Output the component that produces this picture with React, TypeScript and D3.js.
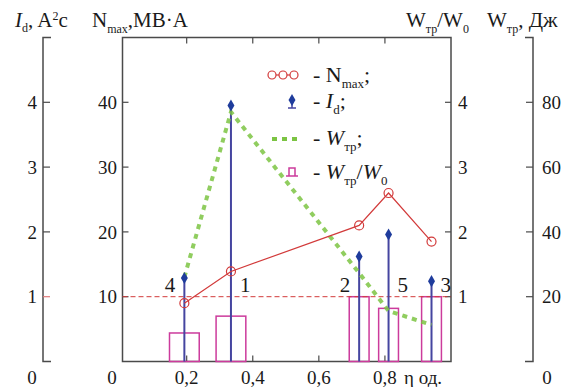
import * as d3 from "d3";

// η, відн. од.
const eta = [0.193, 0.334, 0.722, 0.811, 0.941];
const pointLabels = ["4", "1", "2", "5", "3"];
// N_max, MB·A
const nMax = [9.0, 13.9, 21.0, 26.0, 18.5];
// I_d, A²c
const iD = [1.29, 3.95, 1.62, 1.96, 1.24];
// W_тр, Дж
const wTp = [26, 77, 27.3, 15.6, 11.3];
// W_тр / W_0
const wRatio = [0.44, 0.7, 1.0, 0.82, 1.0];
const barSpan = [0.09, 0.09, 0.06, 0.06, 0.06];

const xTicks = [0.2, 0.4, 0.6, 0.8];
const nTicks = [10, 20, 30, 40];
const unitTicks = [1, 2, 3, 4];
const wTicks = [20, 40, 60, 80];

const FONT = "Liberation Serif, DejaVu Serif, serif";
const AXIS = "#4a4a4a";
const RED = "#d23a3a";
const BLUE_STEM = "#4545a0";
const BLUE = "#1f3c9c";
const GREEN = "#7cc443";
const MAGENTA = "#cc3b9c";

const W = 576;
const H = 387;
const TOP = 37.5;
const BOTTOM = 361.5;
const BOX_L = 122.5;
const BOX_R = 451;
const AX_ID = 43;
const AX_W = 533;

export default function App() {
  const x = d3.scaleLinear().domain([0, 1]).range([120.6, 451]);
  const yN = d3.scaleLinear().domain([0, 50]).range([BOTTOM, TOP]);
  const yU = d3.scaleLinear().domain([0, 5]).range([BOTTOM, TOP]);
  const yW = d3.scaleLinear().domain([0, 100]).range([BOTTOM, TOP]);

  const nLine = d3
    .line<number>()
    .x((_, i) => x(eta[i]))
    .y((d) => yN(d));
  const wLine = d3
    .line<number>()
    .x((_, i) => x(eta[i]))
    .y((d) => yW(d));

  const diamond = d3.symbol(d3.symbolDiamond, 42)();

  const tickText = { fontFamily: FONT, fontSize: 19, fill: "#1a1a1a" } as const;

  return (
    <svg
      width={W}
      height={H}
      style={{ position: "absolute", left: 0, top: 0, background: "#fff" }}
    >
      {/* headers */}
      <text x={15} y={27} fontFamily={FONT} fontSize={21} fill="#1a1a1a">
        <tspan fontStyle="italic">I</tspan>
        <tspan fontSize={12} dy={5}>d</tspan>
        <tspan dy={-5}>, A</tspan>
        <tspan fontSize={12} dy={-7}>2</tspan>
        <tspan dy={7}>c</tspan>
      </text>
      <text x={92} y={27} fontFamily={FONT} fontSize={21} fill="#1a1a1a">
        <tspan>N</tspan>
        <tspan fontSize={12} dy={6}>max</tspan>
        <tspan dy={-6}>,MB·A</tspan>
      </text>
      <text x={406} y={27} fontFamily={FONT} fontSize={21} fill="#1a1a1a">
        <tspan>W</tspan>
        <tspan fontSize={12} dy={6}>тр</tspan>
        <tspan dy={-6}>/W</tspan>
        <tspan fontSize={12} dy={6}>0</tspan>
      </text>
      <text x={487} y={27} fontFamily={FONT} fontSize={21} fill="#1a1a1a">
        <tspan>W</tspan>
        <tspan fontSize={12} dy={6}>тр</tspan>
        <tspan dy={-6}>, Дж</tspan>
      </text>

      {/* I_d axis */}
      <path
        d={`M${AX_ID + 8},${TOP}H${AX_ID}V${BOTTOM}H${AX_ID + 8}`}
        fill="none"
        stroke={AXIS}
        strokeWidth={1.5}
      />
      {unitTicks.map((t) => (
        <g key={t}>
          <line
            x1={AX_ID}
            x2={AX_ID + 7}
            y1={yU(t)}
            y2={yU(t)}
            stroke={t === 1 ? "#e07a7a" : AXIS}
            strokeWidth={1.2}
          />
          <text x={37} y={yU(t)} dy="0.35em" textAnchor="end" {...tickText}>
            {t}
          </text>
        </g>
      ))}
      <text x={32} y={384} textAnchor="middle" {...tickText}>0</text>

      {/* W_тр axis */}
      <path
        d={`M${AX_W - 8},${TOP}H${AX_W}V${BOTTOM}H${AX_W - 8}`}
        fill="none"
        stroke={AXIS}
        strokeWidth={1.5}
      />
      {wTicks.map((t) => (
        <g key={t}>
          <line x1={AX_W - 7} x2={AX_W} y1={yW(t)} y2={yW(t)} stroke={AXIS} strokeWidth={1.2} />
          <text x={542} y={yW(t)} dy="0.35em" {...tickText}>{t}</text>
        </g>
      ))}
      <text x={547} y={384} textAnchor="middle" {...tickText}>0</text>

      {/* main box */}
      <rect
        x={BOX_L}
        y={TOP}
        width={BOX_R - BOX_L}
        height={BOTTOM - TOP}
        fill="none"
        stroke={AXIS}
        strokeWidth={1.5}
      />
      {nTicks.map((t) => (
        <g key={t}>
          <line x1={BOX_L} x2={BOX_L + 6} y1={yN(t)} y2={yN(t)} stroke={AXIS} strokeWidth={1.2} />
          <text x={117} y={yN(t)} dy="0.35em" textAnchor="end" {...tickText}>{t}</text>
        </g>
      ))}
      <text x={112} y={384} textAnchor="middle" {...tickText}>0</text>
      {unitTicks.map((t) => (
        <g key={t}>
          <line x1={BOX_R - 6} x2={BOX_R} y1={yU(t)} y2={yU(t)} stroke={AXIS} strokeWidth={1.2} />
          <text x={458} y={yU(t)} dy="0.35em" {...tickText}>{t}</text>
        </g>
      ))}
      {xTicks.map((t) => (
        <g key={t}>
          <line x1={x(t)} x2={x(t)} y1={BOTTOM} y2={BOTTOM - 6} stroke={AXIS} strokeWidth={1.2} />
          <line x1={x(t)} x2={x(t)} y1={TOP} y2={TOP + 6} stroke={AXIS} strokeWidth={1.2} />
          <text x={x(t)} y={384} textAnchor="middle" {...tickText}>
            {String(t).replace(".", ",")}
          </text>
        </g>
      ))}
      <text x={404} y={384} {...tickText}>η од.</text>

      {/* W_тр / W_0 bars */}
      {wRatio.map((v, i) => (
        <rect
          key={i}
          x={x(eta[i] - barSpan[i] / 2)}
          y={yU(v)}
          width={x(barSpan[i]) - x(0)}
          height={BOTTOM - yU(v)}
          fill="none"
          stroke={MAGENTA}
          strokeWidth={1.5}
        />
      ))}

      {/* reference line at 1 */}
      <line
        x1={BOX_L}
        x2={BOX_R}
        y1={yU(1)}
        y2={yU(1)}
        stroke={RED}
        strokeWidth={1}
        strokeDasharray="5,3"
      />

      {/* I_d stems */}
      {iD.map((v, i) => (
        <line
          key={i}
          x1={x(eta[i])}
          x2={x(eta[i])}
          y1={BOTTOM}
          y2={yU(v)}
          stroke={BLUE_STEM}
          strokeWidth={2}
        />
      ))}

      {/* W_тр */}
      <path
        d={wLine(wTp) ?? ""}
        fill="none"
        stroke={GREEN}
        strokeWidth={4}
        strokeDasharray="5,5"
        opacity={0.85}
      />

      {/* N_max */}
      <path d={nLine(nMax) ?? ""} fill="none" stroke={RED} strokeWidth={1.2} />
      {nMax.map((v, i) => (
        <circle key={i} cx={x(eta[i])} cy={yN(v)} r={4.5} fill="none" stroke={RED} strokeWidth={1.2} />
      ))}

      {/* I_d diamonds */}
      {iD.map((v, i) => (
        <path key={i} d={diamond ?? ""} transform={`translate(${x(eta[i])},${yU(v)})`} fill={BLUE} />
      ))}

      {/* point numbers */}
      {pointLabels.map((l, i) => (
        <text
          key={l}
          x={x(eta[i]) + (i === 0 || i === 2 ? -9 : 9)}
          y={292}
          textAnchor={i === 0 || i === 2 ? "end" : "start"}
          fontFamily={FONT}
          fontSize={21}
          fill="#1a1a1a"
        >
          {l}
        </text>
      ))}

      {/* legend */}
      <g>
        <line x1={268} x2={298} y1={75} y2={75} stroke={RED} strokeWidth={1.2} />
        {[272, 283, 294].map((cx) => (
          <circle key={cx} cx={cx} cy={75} r={4} fill="#fff" stroke={RED} strokeWidth={1.2} />
        ))}
        <line x1={292} x2={292} y1={101} y2={108} stroke={BLUE_STEM} strokeWidth={1.5} />
        <line x1={288} x2={296} y1={108} y2={108} stroke={BLUE_STEM} strokeWidth={1.5} />
        <path d={diamond ?? ""} transform="translate(292,100)" fill={BLUE} />
        <line
          x1={272}
          x2={300}
          y1={139}
          y2={139}
          stroke={GREEN}
          strokeWidth={4}
          strokeDasharray="5,5"
        />
        <path d="M286,176H298M289,176V168H295V176" fill="none" stroke={MAGENTA} strokeWidth={1.5} />

        <text x={313} y={82} fontFamily={FONT} fontSize={22} fill="#1a1a1a">
          <tspan>- N</tspan>
          <tspan fontSize={13} dy={6}>max</tspan>
          <tspan dy={-6}>;</tspan>
        </text>
        <text x={313} y={108} fontFamily={FONT} fontSize={22} fill="#1a1a1a">
          <tspan>- </tspan>
          <tspan fontStyle="italic">I</tspan>
          <tspan fontSize={13} dy={6}>d</tspan>
          <tspan dy={-6}>;</tspan>
        </text>
        <text x={313} y={145} fontFamily={FONT} fontSize={22} fill="#1a1a1a">
          <tspan>- </tspan>
          <tspan fontStyle="italic">W</tspan>
          <tspan fontSize={13} dy={6}>тр</tspan>
          <tspan dy={-6}>;</tspan>
        </text>
        <text x={313} y={179} fontFamily={FONT} fontSize={22} fill="#1a1a1a">
          <tspan>- </tspan>
          <tspan fontStyle="italic">W</tspan>
          <tspan fontSize={13} dy={6}>тр</tspan>
          <tspan dy={-6}>/</tspan>
          <tspan fontStyle="italic">W</tspan>
          <tspan fontSize={13} dy={6}>0</tspan>
        </text>
      </g>
    </svg>
  );
}
